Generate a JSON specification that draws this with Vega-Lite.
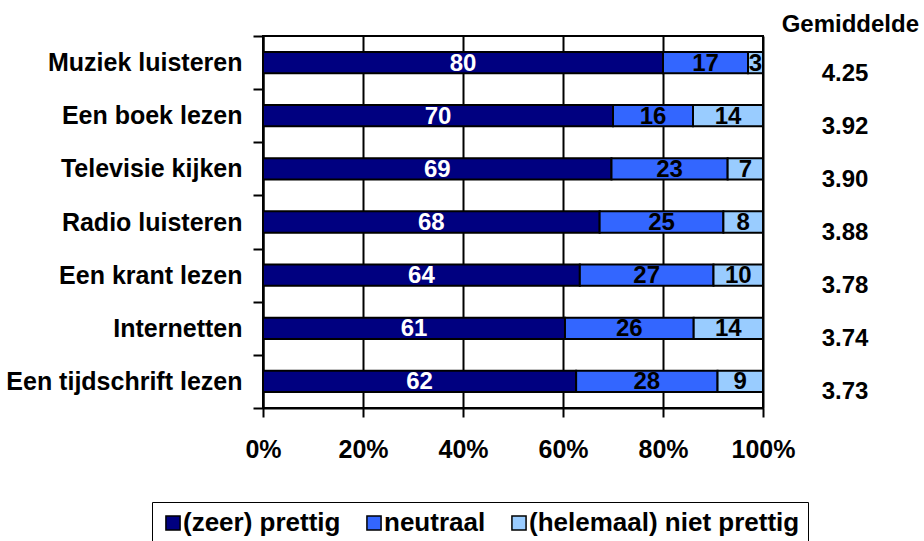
{
  "$schema": "https://vega.github.io/schema/vega-lite/v6.json",
  "width": 500,
  "height": 372,
  "autosize": {"type": "none"},
  "padding": {"left": 263, "top": 36, "right": 161, "bottom": 133},
  "background": "white",
  "config": {
    "font": "Liberation Sans",
    "view": {"stroke": "black", "strokeWidth": 2}
  },
  "title": {
    "text": "Gemiddelde",
    "anchor": "end",
    "frame": "group",
    "orient": "top",
    "dx": 156,
    "dy": 17,
    "offset": 4,
    "font": "Liberation Sans",
    "fontSize": 24,
    "fontWeight": "bold",
    "color": "black"
  },
  "datasets": {
    "scores": [
      {"activity": "Muziek luisteren", "category": "(zeer) prettig", "value": 80},
      {"activity": "Muziek luisteren", "category": "neutraal", "value": 17},
      {"activity": "Muziek luisteren", "category": "(helemaal) niet prettig", "value": 3},
      {"activity": "Een boek lezen", "category": "(zeer) prettig", "value": 70},
      {"activity": "Een boek lezen", "category": "neutraal", "value": 16},
      {"activity": "Een boek lezen", "category": "(helemaal) niet prettig", "value": 14},
      {"activity": "Televisie kijken", "category": "(zeer) prettig", "value": 69},
      {"activity": "Televisie kijken", "category": "neutraal", "value": 23},
      {"activity": "Televisie kijken", "category": "(helemaal) niet prettig", "value": 7},
      {"activity": "Radio luisteren", "category": "(zeer) prettig", "value": 68},
      {"activity": "Radio luisteren", "category": "neutraal", "value": 25},
      {"activity": "Radio luisteren", "category": "(helemaal) niet prettig", "value": 8},
      {"activity": "Een krant lezen", "category": "(zeer) prettig", "value": 64},
      {"activity": "Een krant lezen", "category": "neutraal", "value": 27},
      {"activity": "Een krant lezen", "category": "(helemaal) niet prettig", "value": 10},
      {"activity": "Internetten", "category": "(zeer) prettig", "value": 61},
      {"activity": "Internetten", "category": "neutraal", "value": 26},
      {"activity": "Internetten", "category": "(helemaal) niet prettig", "value": 14},
      {"activity": "Een tijdschrift lezen", "category": "(zeer) prettig", "value": 62},
      {"activity": "Een tijdschrift lezen", "category": "neutraal", "value": 28},
      {"activity": "Een tijdschrift lezen", "category": "(helemaal) niet prettig", "value": 9}
    ],
    "averages": [
      {"activity": "Muziek luisteren", "avg": 4.25},
      {"activity": "Een boek lezen", "avg": 3.92},
      {"activity": "Televisie kijken", "avg": 3.90},
      {"activity": "Radio luisteren", "avg": 3.88},
      {"activity": "Een krant lezen", "avg": 3.78},
      {"activity": "Internetten", "avg": 3.74},
      {"activity": "Een tijdschrift lezen", "avg": 3.73}
    ]
  },
  "layer": [
    {
      "data": {"name": "scores"},
      "transform": [
        {"calculate": "indexof(['(zeer) prettig','neutraal','(helemaal) niet prettig'], datum.category)", "as": "ord"},
        {"stack": "value", "groupby": ["activity"], "sort": [{"field": "ord", "order": "ascending"}], "offset": "normalize", "as": ["v0", "v1"]}
      ],
      "mark": {"type": "bar", "height": {"band": 0.4}, "stroke": "black", "strokeWidth": 2},
      "encoding": {
        "y": {
          "field": "activity", "type": "nominal",
          "sort": ["Muziek luisteren", "Een boek lezen", "Televisie kijken", "Radio luisteren", "Een krant lezen", "Internetten", "Een tijdschrift lezen"],
          "scale": {"paddingInner": 0, "paddingOuter": 0},
          "axis": {
            "title": null, "tickBand": "extent", "tickSize": 10, "tickWidth": 2, "tickColor": "black",
            "domainColor": "black", "domainWidth": 2, "labelPadding": 11,
            "labelFont": "Liberation Sans", "labelFontSize": 25, "labelFontWeight": "bold", "labelColor": "black", "labelLimit": 400, "grid": false
          }
        },
        "x": {
          "field": "v0", "type": "quantitative",
          "scale": {"domain": [0, 1], "nice": false},
          "axis": {
            "title": null, "format": ".0%", "values": [0, 0.2, 0.4, 0.6, 0.8, 1],
            "tickSize": 9, "tickWidth": 2, "tickColor": "black", "domainColor": "black", "domainWidth": 2,
            "grid": true, "gridColor": "black", "gridWidth": 2, "gridOpacity": 1,
            "labelPadding": 20, "labelFont": "Liberation Sans", "labelFontSize": 25, "labelFontWeight": "bold", "labelColor": "black",
            "labelFlush": false
          }
        },
        "x2": {"field": "v1"},
        "color": {
          "field": "category", "type": "nominal",
          "scale": {"domain": ["(zeer) prettig", "neutraal", "(helemaal) niet prettig"], "range": ["#000080", "#3366FF", "#99CCFF"]},
          "legend": {
            "title": null, "orient": "none", "legendX": -111, "legendY": 466, "direction": "horizontal",
            "strokeColor": "black", "padding": 8, "fillColor": "white",
            "symbolType": "square", "symbolSize": 200, "symbolStrokeColor": "black", "symbolStrokeWidth": 1.5, "symbolOpacity": 1,
            "labelFont": "Liberation Sans", "labelFontSize": 26, "labelFontWeight": "bold", "labelColor": "black", "labelLimit": 400,
            "labelOffset": -3, "columnPadding": 20
          }
        }
      }
    },
    {
      "data": {"name": "scores"},
      "transform": [
        {"calculate": "indexof(['(zeer) prettig','neutraal','(helemaal) niet prettig'], datum.category)", "as": "ord"},
        {"stack": "value", "groupby": ["activity"], "sort": [{"field": "ord", "order": "ascending"}], "offset": "normalize", "as": ["v0", "v1"]},
        {"calculate": "(datum.v0 + datum.v1) / 2", "as": "mid"}
      ],
      "mark": {"type": "text", "font": "Liberation Sans", "fontSize": 24, "fontWeight": "bold", "align": "center", "baseline": "middle", "dy": 1},
      "encoding": {
        "y": {"field": "activity", "type": "nominal", "sort": ["Muziek luisteren", "Een boek lezen", "Televisie kijken", "Radio luisteren", "Een krant lezen", "Internetten", "Een tijdschrift lezen"]},
        "x": {"field": "mid", "type": "quantitative"},
        "text": {"field": "value", "type": "quantitative"},
        "color": {"condition": {"test": "datum.category === '(zeer) prettig'", "value": "white"}, "value": "black"}
      }
    },
    {
      "data": {"name": "averages"},
      "mark": {"type": "text", "font": "Liberation Sans", "fontSize": 24, "fontWeight": "bold", "align": "center", "baseline": "middle", "dy": 11, "color": "black"},
      "encoding": {
        "y": {"field": "activity", "type": "nominal", "sort": ["Muziek luisteren", "Een boek lezen", "Televisie kijken", "Radio luisteren", "Een krant lezen", "Internetten", "Een tijdschrift lezen"]},
        "x": {"datum": 1.164, "type": "quantitative"},
        "text": {"field": "avg", "type": "quantitative", "format": ".2f"}
      }
    }
  ]
}
